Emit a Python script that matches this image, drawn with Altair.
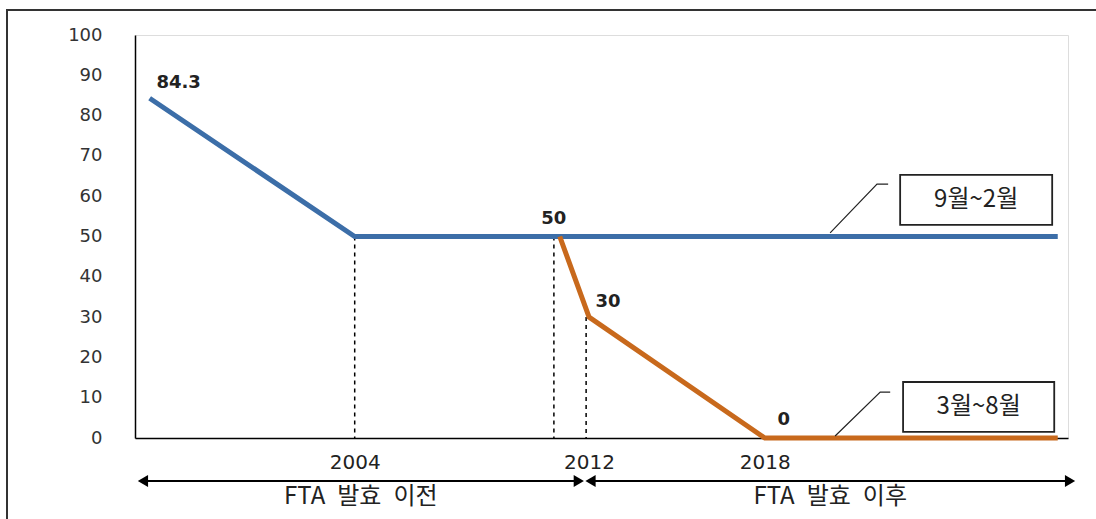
import altair as alt
import pandas as pd

# ---- data ----
blue_years = [1997, 2004, 2028]
blue_values = [84.3, 50, 50]
orange_years = [2011, 2012, 2018, 2028]
orange_values = [50, 30, 0, 0]

label_text = ["84.3", "50", "30", "0"]
label_years = [1997, 2011, 2012, 2018]
label_values = [84.3, 50, 30, 0]

year_ticks = [2004, 2012, 2018]
value_ticks = [0, 10, 20, 30, 40, 50, 60, 70, 80, 90, 100]

guide_years = [2004, 2010.8, 2011.9]
guide_tops = [50, 50, 30]

period_names = ["FTA\u2002발효\u2002이전", "FTA\u2002발효\u2002이후"]
period_start = [1996.77, 2012.05]
period_end = [2011.65, 2028.42]

season_names = ["9월~2월", "3월~8월"]
box_x1 = [2022.62, 2022.72]
box_x2 = [2027.81, 2027.88]
box_y1 = [52.9, 1.5]
box_y2 = [65.3, 13.9]
leader_x = [[2020.23, 2021.83, 2022.21], [2020.4, 2021.94, 2022.28]]
leader_y = [[50.9, 63, 63], [0.5, 11.4, 11.4]]

BLUE = "#3c6ea8"
ORANGE = "#c8691c"
KFONT = "Noto Sans CJK KR"

# ---- tables ----
df_blue = pd.DataFrame({"x": blue_years, "y": blue_values})
df_orange = pd.DataFrame({"x": orange_years, "y": orange_values})
df_labels = pd.DataFrame({"x": label_years, "y": label_values, "t": label_text})
df_guides = pd.DataFrame({"x": guide_years, "y": guide_tops, "y2": [0] * len(guide_years)})
df_period = pd.DataFrame({"x": period_start, "x2": period_end, "t": period_names})
df_period["mid"] = (df_period["x"] + df_period["x2"]) / 2
df_box = pd.DataFrame({"x": box_x1, "x2": box_x2, "y": box_y1, "y2": box_y2, "t": season_names})
df_box["mx"] = (df_box["x"] + df_box["x2"]) / 2
df_box["my"] = (df_box["y"] + df_box["y2"]) / 2
rows = []
for g, (xs_, ys_) in enumerate(zip(leader_x, leader_y)):
    for i, (a, b) in enumerate(zip(xs_, ys_)):
        rows.append({"g": g, "o": i, "x": a, "y": b})
df_lead = pd.DataFrame(rows)

xs = alt.Scale(domain=[1996.5, 2028.35], nice=False, zero=False)
ys = alt.Scale(domain=[0, 100], nice=False, zero=False)
x_axis = alt.Axis(values=year_ticks, format="d", title=None, grid=False, ticks=False,
                  labelPadding=14, labelFont="DejaVu Sans", labelFontSize=20,
                  labelColor="#222", domainColor="#000", domainWidth=1.5)
y_axis = alt.Axis(values=value_ticks, title=None, grid=False, ticks=False,
                  labelPadding=33, labelFont="DejaVu Sans", labelFontSize=18,
                  labelColor="#333", domainColor="#000", domainWidth=1.5)


def X(f="x"):
    return alt.X(f, type="quantitative", scale=xs, axis=x_axis)


def Y(f="y"):
    return alt.Y(f, type="quantitative", scale=ys, axis=y_axis)


frame = alt.Chart(pd.DataFrame({"a": [0]})).mark_rect(
    filled=False, stroke="#333", strokeWidth=2
).encode(x=alt.value(-128), x2=alt.value(1300), y=alt.value(-25), y2=alt.value(700))

guides = alt.Chart(df_guides).mark_rule(color="#000", strokeWidth=1.5, strokeDash=[4, 4]).encode(
    x=X(), y=Y(), y2="y2"
)

blue = alt.Chart(df_blue).mark_line(color=BLUE, strokeWidth=5).encode(x=X(), y=Y())
orange = alt.Chart(df_orange).mark_line(color=ORANGE, strokeWidth=5).encode(x=X(), y=Y())

lab_style = dict(font="DejaVu Sans", fontWeight="bold", fontSize=18, color="#222")
label_offsets = {"84.3": (29, -15), "50": (-6, -18), "30": (19, -15), "0": (19, -18)}
label_layers = []
for t, (dx, dy) in label_offsets.items():
    label_layers.append(
        alt.Chart(df_labels).transform_filter(alt.datum.t == t)
        .mark_text(dx=dx, dy=dy, **lab_style)
        .encode(x=X(), y=Y(), text="t:N")
    )

leaders = alt.Chart(df_lead).mark_line(color="#222", strokeWidth=1.2).encode(
    x=X(), y=Y(), detail="g:N", order="o:Q"
)
box_fill = alt.Chart(df_box).mark_rect(color="white").encode(x=X(), x2="x2", y=Y(), y2="y2")
boxes = alt.Chart(df_box).mark_rect(filled=False, stroke="#222", strokeWidth=1.8).encode(
    x=X(), x2="x2", y=Y(), y2="y2"
)
box_text = alt.Chart(df_box).mark_text(font=KFONT, fontSize=24, color="#222").encode(
    x=X("mx"), y=Y("my"), text="t:N"
)

ARROW_Y = 446
arrows = alt.Chart(df_period).mark_rule(color="#000", strokeWidth=2).encode(
    x=X(), x2="x2", y=alt.value(ARROW_Y)
)
heads_left = alt.Chart(df_period).mark_point(
    shape="triangle-left", filled=True, color="#000", size=140, opacity=1, dx=6
).encode(x=X(), y=alt.value(ARROW_Y))
heads_right = alt.Chart(df_period).mark_point(
    shape="triangle-right", filled=True, color="#000", size=140, opacity=1, dx=-6
).encode(x=X("x2"), y=alt.value(ARROW_Y))
period_text = alt.Chart(df_period).mark_text(font=KFONT, fontSize=24, color="#222").encode(
    x=X("mid"), y=alt.value(462), text="t:N"
)

chart = alt.layer(
    frame, guides, blue, orange, *label_layers, leaders, box_fill, boxes, box_text,
    arrows, heads_left, heads_right, period_text
).properties(
    width=933, height=403,
    padding={"left": 135, "top": 35, "right": 28, "bottom": 81},
    autosize=alt.AutoSizeParams(type="none"),
).configure_view(stroke=None).configure(background="white")

chart.save("out.html", embed_options={"renderer": "svg", "actions": False})
